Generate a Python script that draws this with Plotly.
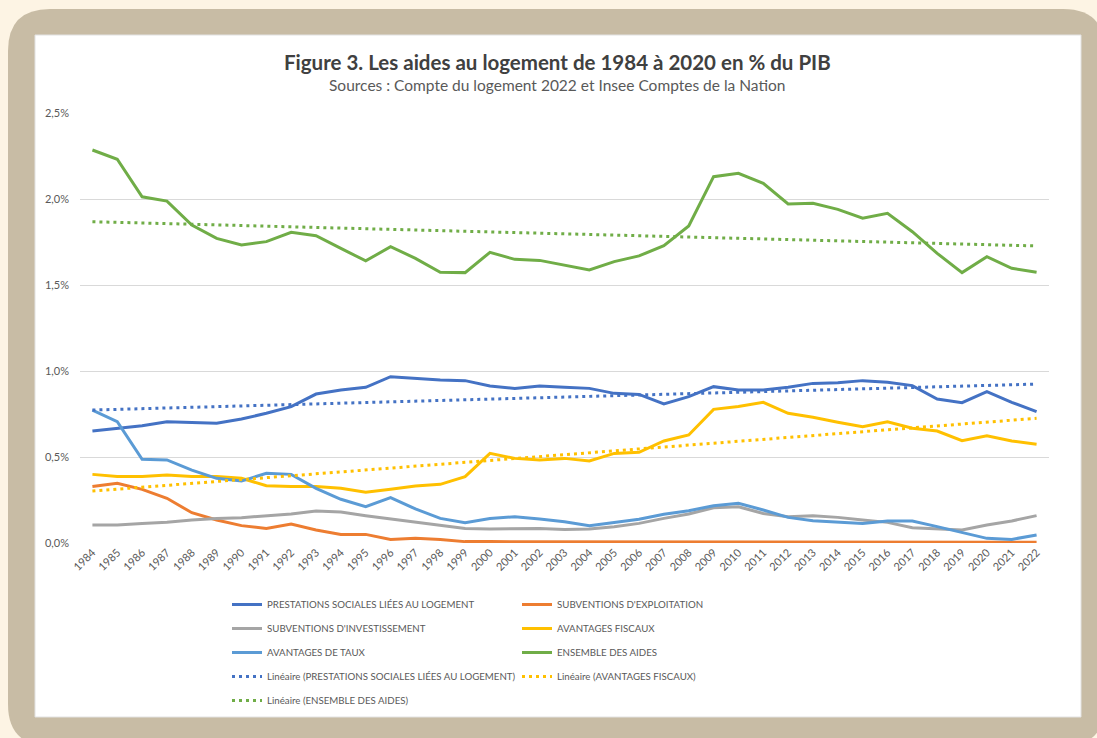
import plotly.graph_objects as go

# --- data (values in % of GDP) ---
years = list(range(1984, 2023))

prestations = [
    0.651, 0.667, 0.682, 0.705, 0.702, 0.696, 0.721, 0.754, 0.793, 0.866,
    0.890, 0.905, 0.967, 0.957, 0.948, 0.944, 0.913, 0.899, 0.913, 0.905,
    0.899, 0.870, 0.864, 0.808, 0.851, 0.909, 0.890, 0.890, 0.905, 0.928,
    0.932, 0.944, 0.934, 0.915, 0.837, 0.816, 0.880, 0.818, 0.764,
]
subv_exploitation = [
    0.328, 0.347, 0.312, 0.260, 0.176, 0.134, 0.101, 0.085, 0.110, 0.076,
    0.050, 0.050, 0.021, 0.027, 0.021, 0.008, 0.008, 0.008, 0.006, 0.006,
    0.006, 0.006, 0.004, 0.004, 0.004, 0.004, 0.004, 0.004, 0.004, 0.004,
    0.007, 0.004, 0.004, 0.004, 0.004, 0.004, 0.004, 0.004, 0.004,
]
subv_investissement = [
    0.105, 0.105, 0.114, 0.120, 0.134, 0.143, 0.147, 0.159, 0.169, 0.186,
    0.180, 0.159, 0.140, 0.124, 0.105, 0.085, 0.081, 0.081, 0.085, 0.079,
    0.081, 0.095, 0.114, 0.143, 0.169, 0.205, 0.211, 0.172, 0.153, 0.159,
    0.149, 0.134, 0.120, 0.089, 0.081, 0.076, 0.105, 0.128, 0.159,
]
avantages_fiscaux = [
    0.399, 0.386, 0.386, 0.395, 0.386, 0.386, 0.376, 0.333, 0.328, 0.328,
    0.318, 0.295, 0.312, 0.331, 0.341, 0.386, 0.521, 0.492, 0.483, 0.492,
    0.477, 0.521, 0.527, 0.593, 0.628, 0.777, 0.793, 0.818, 0.754, 0.731,
    0.702, 0.676, 0.705, 0.667, 0.651, 0.595, 0.624, 0.593, 0.574,
]
avantages_taux = [
    0.773, 0.705, 0.487, 0.483, 0.424, 0.376, 0.360, 0.405, 0.399, 0.318,
    0.254, 0.211, 0.264, 0.198, 0.143, 0.118, 0.143, 0.153, 0.140, 0.124,
    0.101, 0.120, 0.138, 0.167, 0.188, 0.217, 0.231, 0.192, 0.149, 0.130,
    0.124, 0.114, 0.128, 0.128, 0.095, 0.062, 0.027, 0.021, 0.047,
]
ensemble = [
    2.285, 2.231, 2.013, 1.988, 1.849, 1.771, 1.733, 1.752, 1.806, 1.787,
    1.713, 1.640, 1.723, 1.655, 1.574, 1.572, 1.690, 1.649, 1.643, 1.616,
    1.587, 1.636, 1.669, 1.729, 1.843, 2.130, 2.149, 2.091, 1.971, 1.975,
    1.940, 1.888, 1.917, 1.810, 1.684, 1.572, 1.665, 1.597, 1.574,
]

# linear trend lines, end points
trend_years = [1984, 2022]
trend_prestations = [0.773, 0.924]
trend_fiscaux = [0.302, 0.725]
trend_ensemble = [1.868, 1.727]

y_ticks = [0, 0.5, 1.0, 1.5, 2.0, 2.5]
y_labels = ["0,0%", "0,5%", "1,0%", "1,5%", "2,0%", "2,5%"]

names = {
    "prest": "PRESTATIONS SOCIALES LIÉES AU LOGEMENT",
    "expl": "SUBVENTIONS D'EXPLOITATION",
    "inv": "SUBVENTIONS D'INVESTISSEMENT",
    "fisc": "AVANTAGES FISCAUX",
    "taux": "AVANTAGES DE TAUX",
    "ens": "ENSEMBLE DES AIDES",
}
colors = {
    "prest": "#4472C4",
    "expl": "#ED7D31",
    "inv": "#A5A5A5",
    "fisc": "#FFC000",
    "taux": "#5B9BD5",
    "ens": "#70AD47",
}

FONT = "Lato, 'Open Sans', sans-serif"
TXT = "#595959"

# figure geometry (px)
W, H = 1097, 738
L, R, T, B = 80, 48, 113, 195
PW, PH = W - L - R, H - T - B


def px_x(x):
    return (x - L) / PW


def px_y(y):
    return (H - B - y) / PH


def rounded_rect(x0, y0, x1, y1, r):
    """SVG path of a rounded rectangle in paper coordinates from px values"""
    rx, ry = r / PW, r / PH
    a, b, c, d = px_x(x0), px_y(y0), px_x(x1), px_y(y1)  # b is top, d is bottom
    return (
        f"M{a + rx},{b} L{c - rx},{b} Q{c},{b} {c},{b - ry} "
        f"L{c},{d + ry} Q{c},{d} {c - rx},{d} "
        f"L{a + rx},{d} Q{a},{d} {a},{d + ry} "
        f"L{a},{b - ry} Q{a},{b} {a + rx},{b} Z"
    )


fig = go.Figure()

series = [
    ("prest", prestations, "legend"),
    ("expl", subv_exploitation, "legend2"),
    ("inv", subv_investissement, "legend"),
    ("fisc", avantages_fiscaux, "legend2"),
    ("taux", avantages_taux, "legend"),
    ("ens", ensemble, "legend2"),
]
for key, vals, leg in series:
    fig.add_trace(
        go.Scatter(
            x=years,
            y=vals,
            mode="lines",
            name=names[key],
            line=dict(color=colors[key], width=3),
            legend=leg,
            legendgroup=key,
        )
    )

trends = [
    ("prest", trend_prestations, "legend"),
    ("fisc", trend_fiscaux, "legend2"),
    ("ens", trend_ensemble, "legend"),
]
for key, vals, leg in trends:
    fig.add_trace(
        go.Scatter(
            x=trend_years,
            y=vals,
            mode="lines",
            name=f"Linéaire ({names[key]})",
            line=dict(color=colors[key], width=3, dash="3px,4px"),
            legend=leg,
            legendgroup="t" + key,
        )
    )

legend_style = dict(
    orientation="v",
    xanchor="left",
    yanchor="top",
    y=px_y(590),
    font=dict(family=FONT, size=9.7, color=TXT),
    bgcolor="rgba(0,0,0,0)",
    tracegroupgap=5,
    traceorder="grouped",
)

fig.update_layout(
    width=W,
    height=H,
    autosize=False,
    margin=dict(l=L, r=R, t=T, b=B),
    paper_bgcolor="#FDF4E4",
    plot_bgcolor="rgba(0,0,0,0)",
    font=dict(family=FONT, color=TXT),
    showlegend=True,
    legend=dict(legend_style, x=px_x(227)),
    legend2=dict(legend_style, x=px_x(517)),
    xaxis=dict(
        range=[1983.5, 2022.5],
        tickmode="linear",
        tick0=1984,
        dtick=1,
        tickangle=-45,
        tickfont=dict(family=FONT, size=11, color=TXT),
        showgrid=False,
        showline=False,
        zeroline=False,
        ticks="",
    ),
    yaxis=dict(
        range=[0, 2.5],
        tickmode="array",
        tickvals=y_ticks,
        ticktext=y_labels,
        tickfont=dict(family=FONT, size=11, color=TXT),
        showgrid=True,
        gridcolor="#D9D9D9",
        gridwidth=1,
        zeroline=False,
        showline=False,
        ticks="",
        ticklabelstandoff=10,
    ),
    shapes=[
        dict(
            type="path",
            xref="paper",
            yref="paper",
            path=rounded_rect(8, 9, 1105, 746, 42),
            fillcolor="#C8BCA5",
            line=dict(width=0),
            layer="below",
        ),
        dict(
            type="rect",
            xref="paper",
            yref="paper",
            x0=px_x(35),
            x1=px_x(1081),
            y0=px_y(717),
            y1=px_y(35),
            fillcolor="#FFFFFF",
            line=dict(color="#E2E2E2", width=1),
            layer="below",
        ),
    ],
    annotations=[
        dict(
            text="<b>Figure 3. Les aides au logement de 1984 à 2020 en % du PIB</b>",
            xref="paper",
            yref="paper",
            x=px_x(557),
            y=px_y(62),
            xanchor="center",
            yanchor="middle",
            showarrow=False,
            font=dict(family=FONT, size=20.5, color="#404040"),
        ),
        dict(
            text="Sources : Compte du logement 2022 et Insee Comptes de la Nation",
            xref="paper",
            yref="paper",
            x=px_x(557),
            y=px_y(85),
            xanchor="center",
            yanchor="middle",
            showarrow=False,
            font=dict(family=FONT, size=15.5, color=TXT),
        ),
    ],
)

# page body margin would shift the figure by 8px
fig.write_html(
    "out.html",
    config={"displayModeBar": False},
    post_script="document.body.style.margin='0';",
)
